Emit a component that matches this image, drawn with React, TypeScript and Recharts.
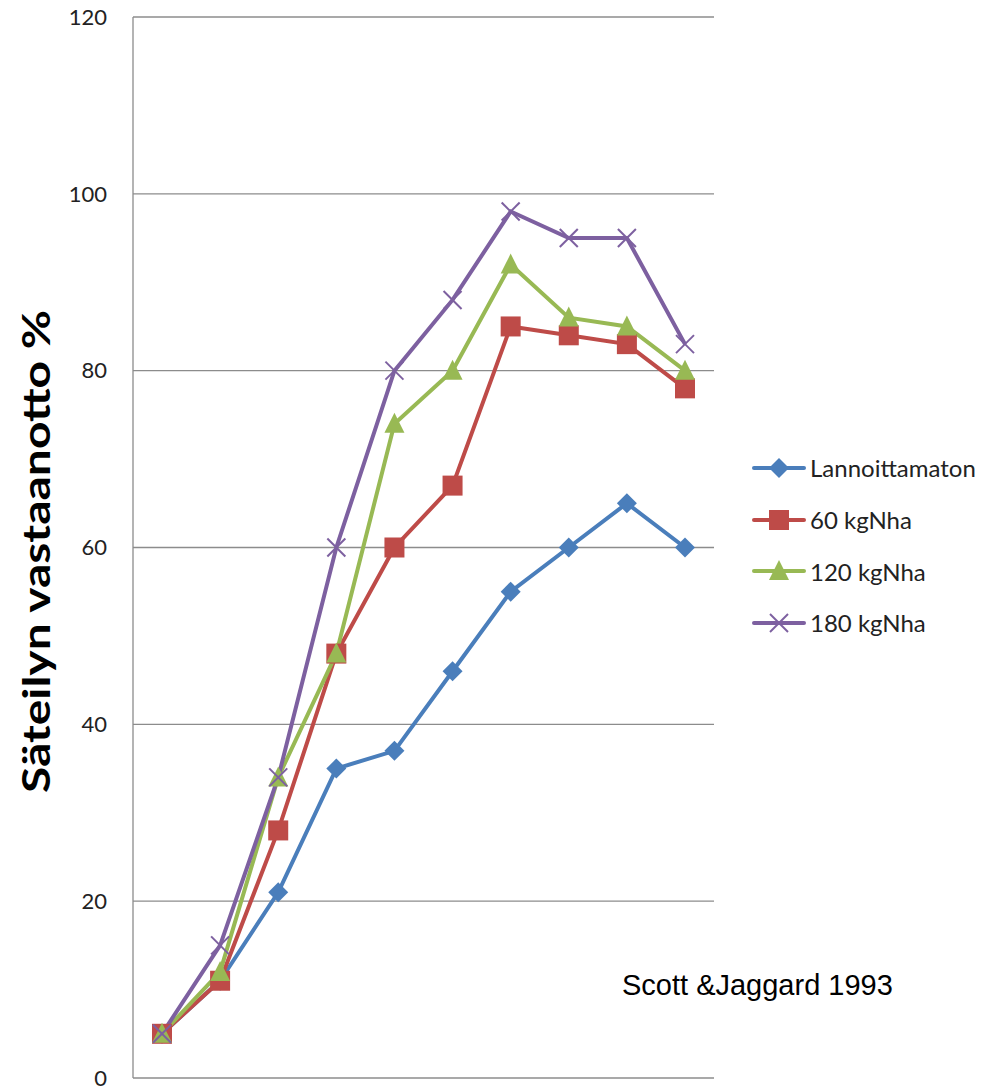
import React from "react";
import {
  LineChart,
  Line,
  XAxis,
  YAxis,
  CartesianGrid,
} from "recharts";

const categories = ["1", "2", "3", "4", "5", "6", "7", "8", "9", "10"];
const lannoittamaton = [5, 11, 21, 35, 37, 46, 55, 60, 65, 60];
const kg60 = [5, 11, 28, 48, 60, 67, 85, 84, 83, 78];
const kg120 = [5, 12, 34, 48, 74, 80, 92, 86, 85, 80];
const kg180 = [5, 15, 34, 60, 80, 88, 98, 95, 95, 83];
const yTicks = [0, 20, 40, 60, 80, 100, 120];

const SERIES = [
  { key: "l0", name: "Lannoittamaton", values: lannoittamaton, color: "#4A7EBB", marker: "diamond" },
  { key: "l60", name: "60 kgNha", values: kg60, color: "#BE4B48", marker: "square" },
  { key: "l120", name: "120 kgNha", values: kg120, color: "#98B954", marker: "triangle" },
  { key: "l180", name: "180 kgNha", values: kg180, color: "#7D60A0", marker: "cross" },
];

const data = categories.map((c, i) => {
  const row: Record<string, string | number> = { name: c };
  SERIES.forEach((s) => (row[s.key] = s.values[i]));
  return row;
});

const GRID = "#8c8c8c";
const LABEL_FONT = "Lato, 'Open Sans', sans-serif";

function Marker({ type, cx, cy, color }: { type: string; cx: number; cy: number; color: string }) {
  const r = 10;
  if (type === "diamond")
    return <path d={`M${cx},${cy - r} L${cx + r},${cy} L${cx},${cy + r} L${cx - r},${cy} Z`} fill={color} />;
  if (type === "square")
    return <rect x={cx - r} y={cy - r} width={r * 2} height={r * 2} fill={color} />;
  if (type === "triangle")
    return <path d={`M${cx},${cy - r - 1} L${cx + r},${cy + r - 1} L${cx - r},${cy + r - 1} Z`} fill={color} />;
  return (
    <g stroke={color} strokeWidth={2}>
      <line x1={cx - 9} y1={cy - 9} x2={cx + 9} y2={cy + 9} />
      <line x1={cx - 9} y1={cy + 9} x2={cx + 9} y2={cy - 9} />
    </g>
  );
}

// rotated bold axis title, stretched to the length seen in the source
function YTitle(props: any) {
  const vb = props.viewBox || {};
  const cx = vb.x + 35;
  const cy = vb.y + vb.height / 2 + 4;
  return (
    <text
      x={cx}
      y={cy}
      transform={`rotate(-90, ${cx}, ${cy})`}
      textAnchor="middle"
      dominantBaseline="central"
      textLength={483}
      lengthAdjust="spacingAndGlyphs"
      style={{ fontSize: 38, fontWeight: 700, fill: "#000", fontFamily: LABEL_FONT }}
    >
      Säteilyn vastaanotto %
    </text>
  );
}

function LegendBox() {
  return (
    <div
      style={{
        position: "absolute",
        left: 750,
        top: 442,
        fontFamily: LABEL_FONT,
        fontSize: 24,
        color: "#222",
      }}
    >
      {SERIES.map((s) => (
        <div key={s.key} style={{ display: "flex", alignItems: "center", height: 51.7 }}>
          <svg width={58} height={24} style={{ overflow: "visible" }}>
            <line x1={4} y1={12} x2={54} y2={12} stroke={s.color} strokeWidth={4} strokeLinecap="round" />
            <Marker type={s.marker} cx={29} cy={12} color={s.color} />
          </svg>
          <span style={{ marginLeft: 2 }}>{s.name}</span>
        </div>
      ))}
    </div>
  );
}

export default function App() {
  return (
    <div style={{ position: "absolute", left: 0, top: 0, width: 988, height: 1086, background: "#fff" }}>
      <LineChart
        width={988}
        height={1086}
        data={data}
        margin={{ top: 17, right: 274, bottom: 8, left: 0 }}
      >
        <CartesianGrid vertical={false} stroke={GRID} strokeWidth={1.3} />
        <XAxis
          dataKey="name"
          tick={false}
          tickLine={false}
          height={0}
          padding={{ left: 29, right: 29 }}
          axisLine={{ stroke: GRID, strokeWidth: 1.3 }}
        />
        <YAxis
          width={133}
          domain={[0, 120]}
          ticks={yTicks}
          interval={0}
          tickLine={false}
          tickMargin={20}
          axisLine={{ stroke: GRID, strokeWidth: 1.3 }}
          tick={{ fill: "#222", fontSize: 22, fontFamily: LABEL_FONT }}
          label={{ content: (p: any) => <YTitle {...p} /> }}
        />
        {SERIES.map((s) => (
          <Line
            key={s.key}
            dataKey={s.key}
            name={s.name}
            stroke={s.color}
            strokeWidth={4}
            isAnimationActive={false}
            dot={(p: any) => (
              <Marker key={`${s.key}-${p.index}`} type={s.marker} cx={p.cx} cy={p.cy} color={s.color} />
            )}
            activeDot={false}
          />
        ))}
      </LineChart>
      <LegendBox />
      <div
        style={{
          position: "absolute",
          left: 622,
          top: 969,
          fontFamily: "'Liberation Sans', Arial, sans-serif",
          fontSize: 29,
          color: "#000",
          whiteSpace: "nowrap",
        }}
      >
        Scott &amp;Jaggard 1993
      </div>
    </div>
  );
}
